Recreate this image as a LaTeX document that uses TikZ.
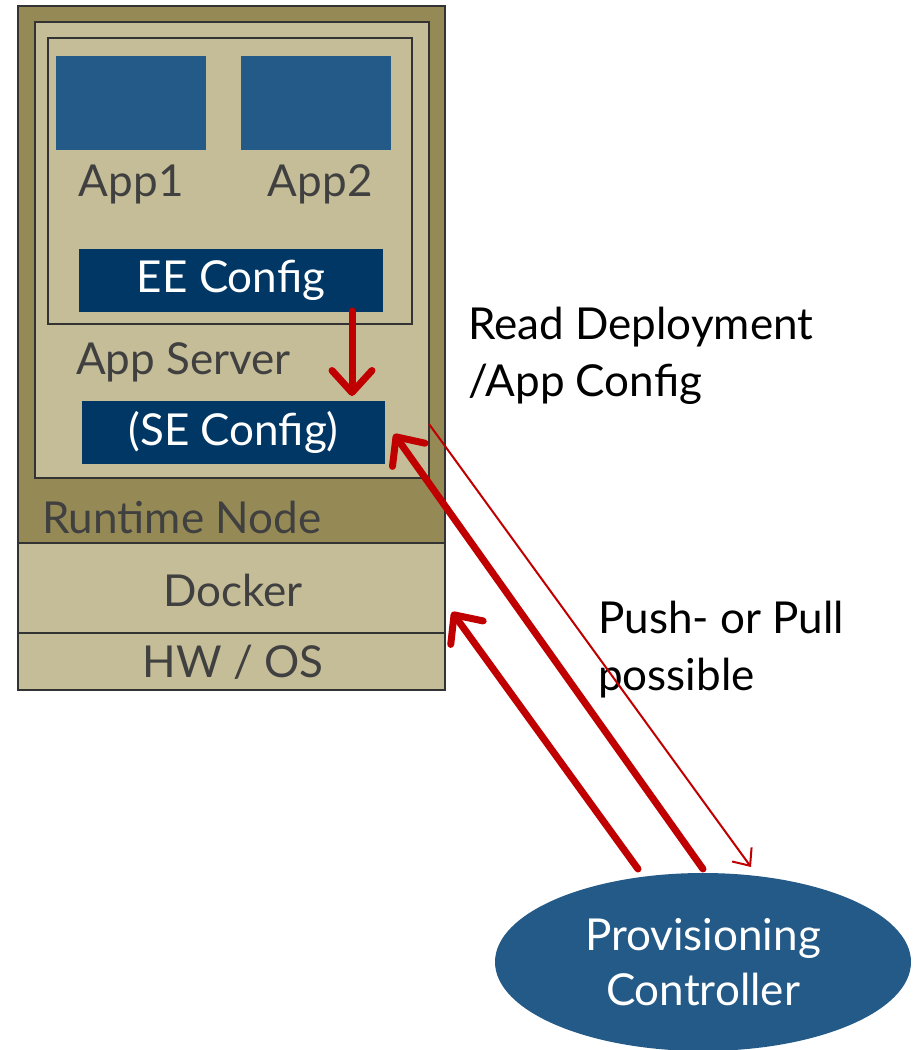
\documentclass[tikz,border=0pt]{standalone}
\usepackage{fontspec}
\setmainfont{Lato}
\usetikzlibrary{arrows.meta, positioning, shapes.geometric, calc}
\definecolor{olive}{HTML}{958A55}
\definecolor{sand}{HTML}{C5BD98}
\definecolor{appblue}{HTML}{245A88}
\definecolor{navy}{HTML}{003764}
\definecolor{darkred}{HTML}{C00000}
\definecolor{textgray}{HTML}{404040}
\tikzset{
  layer/.style={
	draw=black!80, line width=1.5pt, % thin dark frame round each layer
	inner sep=0pt, outer sep=0pt,
	anchor=north west,
  },
  appbox/.style={fill=appblue, inner sep=0pt, anchor=north west}, % the app squares
  cfgbox/.style={fill=navy, text=white, inner sep=0pt}, % the config bars
  label/.style={text=textgray, inner sep=0pt, font=\fontsize{44}{56}\selectfont},
  bigarrow/.style={
	draw=darkred, line width=7pt, line cap=round,
	-{Straight Barb[length=22pt, width=40pt, line width=7pt, round]}, % bold open head
  },
  thinarrow/.style={
	draw=darkred, line width=2pt,
	-{Straight Barb[length=14pt, width=24pt, line width=2pt]},
  },
}
\begin{document}
\begin{tikzpicture}[x=1pt, y=-1pt]
  \useasboundingbox (0,0) rectangle (916,1050);

  % stack of layers
  \node[layer, fill=olive, minimum width=427pt, minimum height=537pt] (runtime) at (18,6) {};
  \node[layer, fill=sand, minimum width=427pt, minimum height=90pt] (docker) at (18,543) {};
  \node[layer, fill=sand, minimum width=427pt, minimum height=57pt] (hwos) at (18,633) {};
  \node[layer, fill=sand, minimum width=394pt, minimum height=456pt] (server) at (35,22) {};
  \node[layer, fill=sand, line width=1.2pt, minimum width=364pt, minimum height=286pt] (apps) at (48,38) {};

  % apps and configs
  \node[appbox, minimum width=150pt, minimum height=94pt] (app1) at (56,56) {};
  \node[appbox, minimum width=150pt, minimum height=94pt] (app2) at (241,56) {};
  \node[label, below=14pt of app1] (app1txt) {App1};
  \node[label, below=14pt of app2, xshift=4pt] (app2txt) {App2};
  \node[cfgbox, minimum width=304pt, minimum height=63pt, font=\fontsize{44}{56}\selectfont] (ee) at (231,280) {EE Config};
  \node[cfgbox, minimum width=303pt, minimum height=63pt, font=\fontsize{44}{56}\selectfont] (se) at (233.5,432.5) {(SE Config)};

  % layer labels
  \node[label, anchor=west] (servertxt) at (76,362) {App Server};
  \node[label, anchor=west] (runtimetxt) at (42,517) {Runtime Node};
  \node[label] (dockertxt) at (233,590) {Docker};
  \node[label] (hwostxt) at (233,662) {HW / OS};

  % controller
  \node[ellipse, fill=appblue, text=white, inner sep=0pt, minimum width=416pt, minimum height=178pt,
	align=center, font=\fontsize{44}{55}\selectfont] (ctrl) at (703,962) {Provisioning\\Controller};

  % side notes
  \node[anchor=north west, inner sep=0pt, align=left, font=\fontsize{44}{57}\selectfont] (readtxt) at (468,307) {Read Deployment\\/App Config};
  \node[anchor=north west, inner sep=0pt, align=left, font=\fontsize{44}{57}\selectfont] (pushtxt) at (598,601) {Push- or Pull\\possible};

  % connector ends
  \coordinate (eeout) at (352,311);
  \coordinate (sein) at (352,396);
  \coordinate (seright) at (394,434);
  \coordinate (dockerin) at (452,612);
  \coordinate (ctrlA) at (703,869);
  \coordinate (ctrlB) at (638,869);
  \coordinate (serverout) at (429,424);
  \coordinate (ctrlC) at (751,867);

  \draw[bigarrow] (eeout) -- (sein);
  \draw[bigarrow] (ctrlA) -- (seright);
  \draw[bigarrow] (ctrlB) -- (dockerin);
  \draw[thinarrow] (serverout) -- (ctrlC);
\end{tikzpicture}
\end{document}
